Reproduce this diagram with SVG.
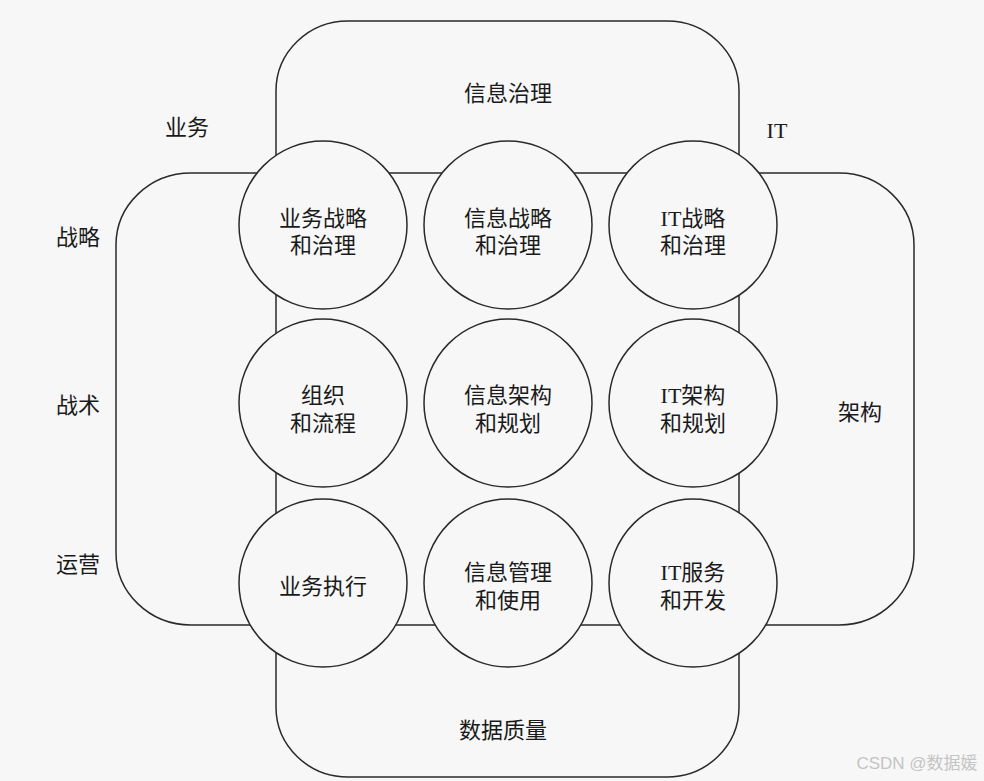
<svg xmlns="http://www.w3.org/2000/svg" width="984" height="781" viewBox="0 0 984 781">
<style>
.bg{fill:#f7f7f7}
.frame{fill:none;stroke:#2a2a2a;stroke-width:1.5}
.node{fill:#f7f7f7;stroke:#2a2a2a;stroke-width:1.5}
text{font-family:"Liberation Serif","Noto Sans CJK SC",serif;font-size:22px;fill:#1a1a1a;text-anchor:middle;dominant-baseline:central}
.wm{font-family:"Liberation Sans","Noto Sans CJK SC",sans-serif;font-size:17px;fill:#c4c4c4}
</style>
<rect class="bg" x="0" y="0" width="984" height="781"/>
<g id="connectors">
<rect id="vband" class="frame" x="276" y="21" width="463" height="756" rx="72" ry="70"/>
<rect id="hband" class="frame" x="116" y="173" width="798" height="452" rx="75" ry="72"/>
</g>
<g id="labels">
<text x="508" y="93">信息治理</text>
<text x="503" y="730">数据质量</text>
<text x="187" y="127">业务</text>
<text x="777" y="130">IT</text>
<text x="78" y="237">战略</text>
<text x="78" y="405">战术</text>
<text x="78" y="564">运营</text>
<text x="860" y="412">架构</text>
</g>
<g id="n11"><circle class="node" cx="323" cy="225" r="84"/><text x="323" y="218">业务战略</text><text x="323" y="245">和治理</text></g>
<g id="n12"><circle class="node" cx="508" cy="225" r="84"/><text x="508" y="218">信息战略</text><text x="508" y="245">和治理</text></g>
<g id="n13"><circle class="node" cx="693" cy="225" r="84"/><text x="693" y="218">IT战略</text><text x="693" y="245">和治理</text></g>
<g id="n21"><circle class="node" cx="323" cy="403" r="84"/><text x="323" y="395">组织</text><text x="323" y="423">和流程</text></g>
<g id="n22"><circle class="node" cx="508" cy="403" r="84"/><text x="508" y="395">信息架构</text><text x="508" y="423">和规划</text></g>
<g id="n23"><circle class="node" cx="693" cy="403" r="84"/><text x="693" y="395">IT架构</text><text x="693" y="423">和规划</text></g>
<g id="n31"><circle class="node" cx="323" cy="583" r="84"/><text x="323" y="586">业务执行</text></g>
<g id="n32"><circle class="node" cx="508" cy="583" r="84"/><text x="508" y="572">信息管理</text><text x="508" y="600">和使用</text></g>
<g id="n33"><circle class="node" cx="693" cy="583" r="84"/><text x="693" y="572">IT服务</text><text x="693" y="600">和开发</text></g>
<text class="wm" x="917" y="763">CSDN @数据媛</text>
</svg>
